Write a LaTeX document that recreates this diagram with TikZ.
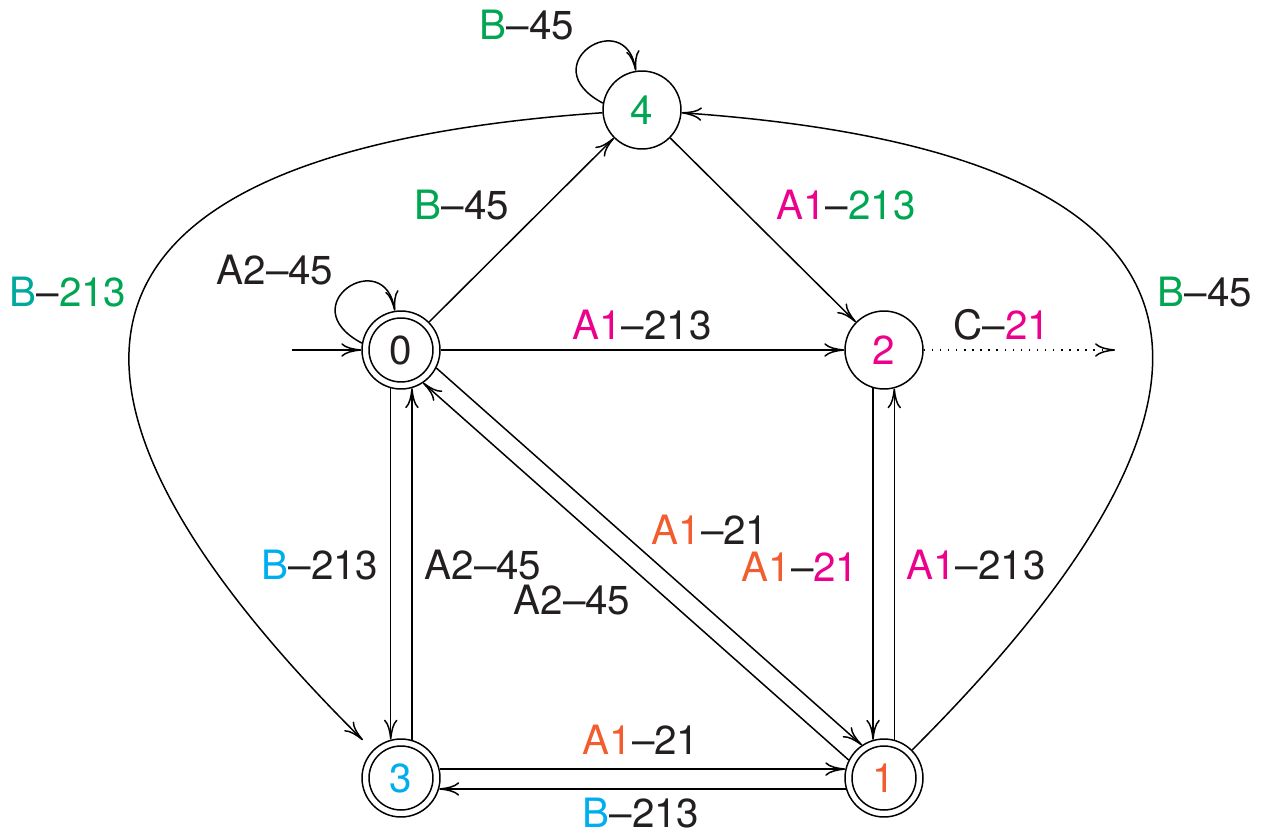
\documentclass[tikz,border=0pt]{standalone}
\usepackage{fontspec}
\setmainfont{TeX Gyre Heros}
\usetikzlibrary{arrows.meta}
\definecolor{ink}{HTML}{231F20}
\definecolor{grn}{HTML}{00A651}
\definecolor{teal}{HTML}{00A99D}
\definecolor{mag}{HTML}{EC008C}
\definecolor{org}{HTML}{F15D2F}
\definecolor{cyn}{HTML}{00AEEF}
\tikzset{
  state/.style={circle, draw, minimum size=1.56cm, inner sep=0pt},
  lbl/.style={inner sep=0pt},
  every node/.style={font=\fontsize{23}{27}\selectfont, text=ink},
  >={Computer Modern Rightarrow[length=0.4cm,width=0.27cm]},
  dots/.style={dash pattern=on 0.8pt off 3.8pt}
}
\begin{document}
\begin{tikzpicture}[x=0.02cm, y=-0.02cm, line width=0.85pt]
\useasboundingbox (0,0) rectangle (1261,835);

% states
\node[state] (n0) at (401,350) {0};
\node[state] (n2) at (884,350) {\textcolor{mag}{2}};
\node[state] (n3) at (401,778) {\textcolor{cyn}{3}};
\node[state] (n1) at (884,778) {\textcolor{org}{1}};
\node[state] (n4) at (642,110) {\textcolor{grn}{4}};
% accepting states get an inner ring
\draw (n0.center) circle[radius=0.64cm];
\draw (n3.center) circle[radius=0.64cm];
\draw (n1.center) circle[radius=0.64cm];

\coordinate (init) at (292,350);
\coordinate (cend) at (1115,350);

% transitions
\draw[->] (init) -- (n0);
\draw[->] (n0.170) .. controls +(-72,-38) and +(-10,-66) .. (n0.99);
\draw[->] (n4.170) .. controls +(-72,-38) and +(-10,-66) .. (n4.99);
\draw[->] (n0) -- (n4);
\draw[->] (n4) -- (n2);
\draw[->] (n0) -- (n2);
\draw[->, dots] (n2) -- (cend);
\draw[->] (n0.-105) -- (n3.105);
\draw[->] (n3.74) -- (n0.-74);
\draw[->] (n2.-106) -- (n1.106);
\draw[->] (n1.75) -- (n2.-75);
\draw[->] (n3.13) -- (n1.167);
\draw[->] (n1.-164) -- (n3.-16);
\draw[->] (n0.-27) -- (n1.124);
\draw[->] (n1.153) -- (n0.-56);
\draw[->, shorten >=0.28cm] (n4) .. controls (23,153) and (16,396) .. (n3);
\draw[->] (n1) .. controls (1267,396) and (1260,153) .. (n4);

% transition labels
\node[lbl] (l44)  at (527,25)  {\textcolor{grn}{B}--45};
\node[lbl] (l04)  at (462,205) {\textcolor{grn}{B}--45};
\node[lbl] (l42)  at (846,205) {\textcolor{mag}{A1}--\textcolor{grn}{213}};
\node[lbl] (l00)  at (275,270) {A2--45};
\node[lbl] (l43)  at (68,292)  {\textcolor{teal}{B}--\textcolor{grn}{213}};
\node[lbl] (l02)  at (642,325) {\textcolor{mag}{A1}--213};
\node[lbl] (l2c)  at (1002,325) {C--\textcolor{mag}{21}};
\node[lbl] (l14)  at (1205,292) {\textcolor{grn}{B}--45};
\node[lbl] (l03)  at (320,565) {\textcolor{cyn}{B}--213};
\node[lbl] (l30)  at (483,565) {A2--45};
\node[lbl] (l01)  at (710,530) {\textcolor{org}{A1}--21};
\node[lbl] (l21)  at (800,567) {\textcolor{org}{A1}--\textcolor{mag}{21}};
\node[lbl] (l10)  at (572,600) {A2--45};
\node[lbl] (l12)  at (976,565) {\textcolor{mag}{A1}--213};
\node[lbl] (l31)  at (641,740) {\textcolor{org}{A1}--21};
\node[lbl] (l13)  at (641,813) {\textcolor{cyn}{B}--213};
\end{tikzpicture}
\end{document}
